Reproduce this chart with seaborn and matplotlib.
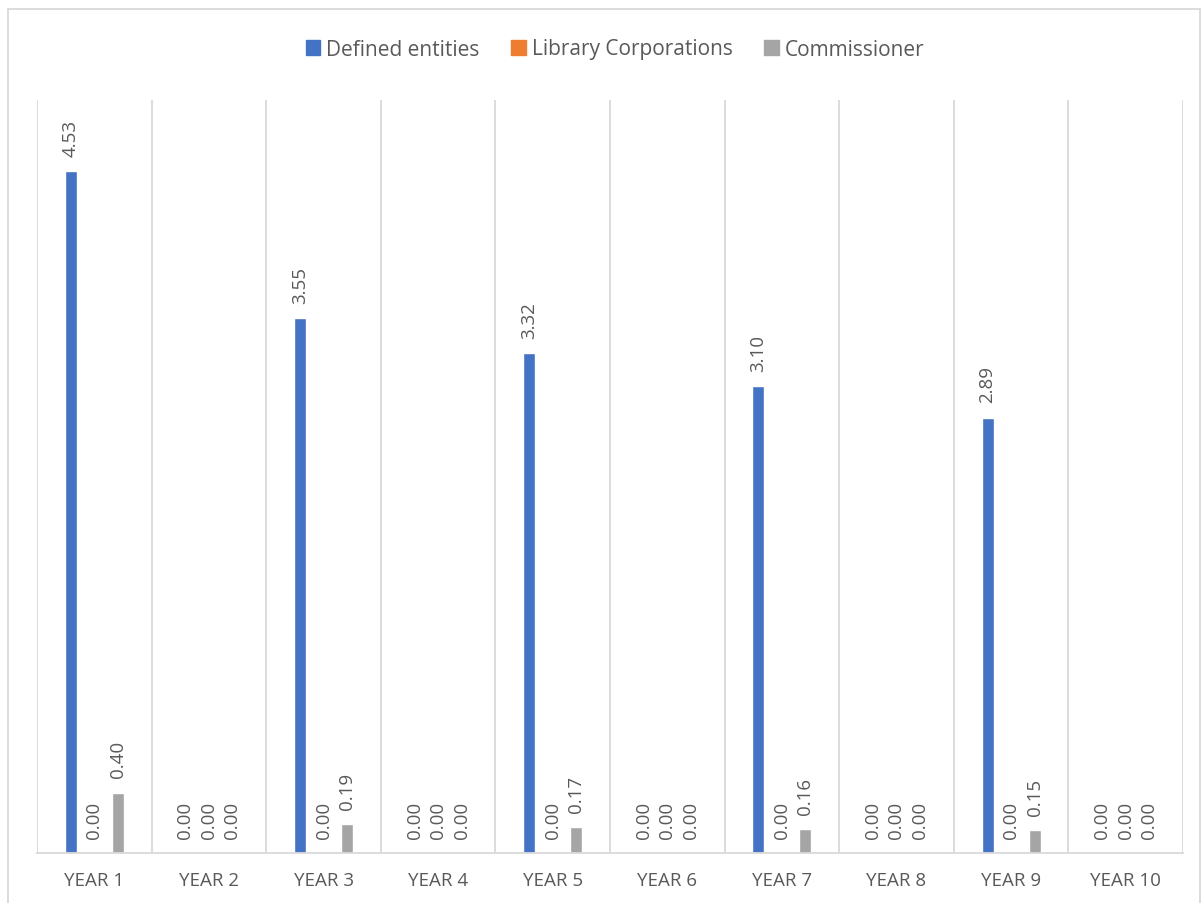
import matplotlib
matplotlib.use("Agg")
import matplotlib.pyplot as plt
import seaborn as sns
import pandas as pd
from matplotlib.patches import Rectangle

years = ["YEAR 1", "YEAR 2", "YEAR 3", "YEAR 4", "YEAR 5",
         "YEAR 6", "YEAR 7", "YEAR 8", "YEAR 9", "YEAR 10"]
defined_entities = [4.53, 0.00, 3.55, 0.00, 3.32, 0.00, 3.10, 0.00, 2.89, 0.00]
library_corporations = [0.00] * 10
commissioner = [0.40, 0.00, 0.19, 0.00, 0.17, 0.00, 0.16, 0.00, 0.15, 0.00]

series_names = ["Defined entities", "Library Corporations", "Commissioner"]
series_values = [defined_entities, library_corporations, commissioner]
colors = ["#4472C4", "#ED7D31", "#A5A5A5"]

rows = []
for name, vals in zip(series_names, series_values):
    for yr, v in zip(years, vals):
        rows.append({"year": yr, "series": name, "value": v})
df = pd.DataFrame(rows)

sns.set_theme(style="white")
plt.rcParams["font.family"] = ["Open Sans", "DejaVu Sans"]
text_color = "#595959"
grid_color = "#D9D9D9"

fig = plt.figure(figsize=(12.03, 9.04), dpi=100)
ax = fig.add_axes([37 / 1203, 1 - 854 / 904, (1183 - 37) / 1203, (854 - 101) / 904])

sns.barplot(data=df, x="year", y="value", hue="series", order=years,
            hue_order=series_names, palette=colors, width=0.615, gap=0.49,
            saturation=1, errorbar=None, ax=ax)

for cont in ax.containers:
    ax.bar_label(cont, fmt="%.2f", rotation=90, padding=11,
                 color=text_color, fontsize=13.5)

ax.set_ylim(0, 5)
ax.set_xlim(-0.5, len(years) - 0.5)
ax.set_yticks([])
ax.set_xlabel("")
ax.set_ylabel("")

# category separators
ax.set_xticks([i + 0.5 for i in range(-1, len(years))], minor=True)
ax.grid(False)
ax.grid(True, which="minor", axis="x", color=grid_color, linewidth=1.3)
ax.tick_params(axis="x", which="both", length=0, pad=13,
               labelsize=13.5, labelcolor=text_color)
for sp in ["top", "left", "right"]:
    ax.spines[sp].set_visible(False)
ax.spines["bottom"].set_color(grid_color)
ax.spines["bottom"].set_linewidth(1.3)
ax.set_axisbelow(True)

ax.legend_.remove()
handles = [Rectangle((0, 0), 1, 1, color=c) for c in colors]
fig.legend(handles, series_names, loc="center",
           bbox_to_anchor=(615 / 1203, 1 - 50 / 904),
           ncol=3, frameon=False, handlelength=0.7, handleheight=0.7,
           handletextpad=0.3, columnspacing=1.5, fontsize=15,
           labelcolor=text_color)

# outer chart frame
fig.patches.append(Rectangle((8 / 1203, -0.05), 1192 / 1203, 1 - 10 / 904 + 0.05,
                             transform=fig.transFigure, fill=False,
                             edgecolor=grid_color, linewidth=1.3))

fig.savefig("out.png", dpi=100, facecolor="white")
